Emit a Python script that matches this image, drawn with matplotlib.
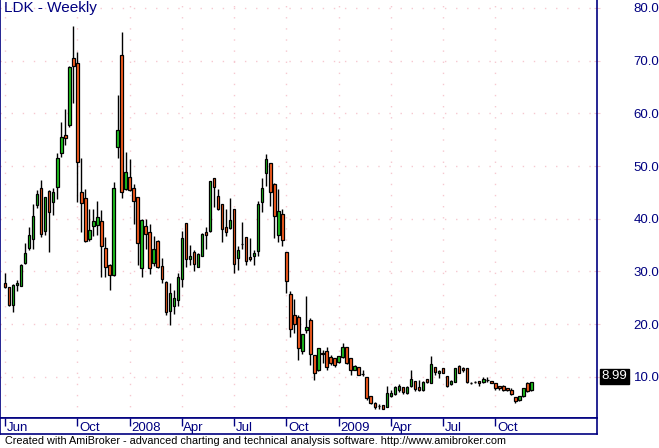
import numpy as np
import pandas as pd
import matplotlib
matplotlib.use("Agg")
import matplotlib.pyplot as plt
import matplotlib.transforms as mtransforms

# Datos semanales LDK
opens = [27.9, 27.0, 23.6, 27.4, 27.3, 31.6, 34.5, 36.1, 42.6, 45.8,
         37.7, 45.3, 43.1, 46.0, 52.4, 55.8, 57.7, 70.5, 69.5, 45.0,
         43.9, 36.2, 38.7, 38.8, 39.5, 34.4, 31.2, 29.3, 53.6, 71.1,
         45.6, 47.9, 45.8, 44.1, 30.6, 38.6, 37.4, 31.6, 35.8, 31.1,
         28.0, 22.5, 23.5, 24.5, 28.5, 39.1, 32.3, 33.6, 30.9, 33.0,
         37.4, 37.6, 47.7, 44.3, 42.75, 38.5, 38.3, 41.8, 32.5, 35.2,
         36.5, 32.7, 32.9, 33.95, 43.25, 48.75, 50.5, 46.6, 36.9, 40.85,
         33.6, 25.7, 21.75, 21.3, 15.0, 18.8, 20.7, 14.2, 11.4, 14.6,
         14.9, 13.7, 13.5, 12.9, 13.8, 15.7, 13.5, 11.4, 11.8, 10.6,
         10.0, 6.4, 5.0, 4.4, 4.7, 4.35, 6.4, 6.7, 7.5, 8.0,
         7.0, 8.3, 9.3, 8.1, 7.5, 9.55, 8.9, 11.8, 10.7, 11.6,
         10.2, 8.6, 9.1, 12.1, 11.6, 11.6, 8.8, 9.1, 9.2, 9.0,
         9.4, 9.2, 8.8, 8.3, 8.3, 7.8, 7.5, 6.1, 5.6, 6.4,
         8.9, 7.6]
highs = [29.8, 27.1, 27.6, 28.4, 31.4, 35.4, 38.5, 42.8, 45.5, 47.4,
         44.2, 45.5, 45.8, 52.4, 58.3, 60.8, 69.0, 76.6, 71.6, 51.5,
         45.6, 41.9, 41.9, 43.4, 41.7, 36.6, 31.5, 47.0, 63.5, 75.5,
         52.6, 51.3, 46.5, 44.2, 40.0, 39.9, 39.0, 36.7, 36.0, 32.5,
         28.2, 27.9, 26.5, 29.7, 37.7, 39.2, 35.0, 34.1, 33.45, 37.25,
         38.4, 47.2, 47.8, 45.7, 42.8, 41.9, 43.9, 41.9, 34.8, 39.3,
         36.6, 36.3, 34.1, 43.4, 47.7, 52.3, 50.6, 46.7, 45.7, 41.9,
         33.65, 26.3, 24.8, 21.75, 18.1, 25.4, 21.1, 14.2, 15.5, 15.1,
         15.7, 14.2, 13.5, 14.0, 16.4, 15.7, 13.5, 12.3, 11.8, 11.3,
         10.0, 6.4, 5.3, 4.85, 4.7, 8.3, 7.5, 8.3, 8.65, 8.1,
         8.2, 11.3, 9.3, 9.4, 9.3, 9.55, 14.0, 11.8, 11.3, 11.6,
         10.2, 9.5, 11.6, 12.3, 11.9, 11.6, 8.95, 9.3, 9.2, 9.9,
         9.9, 9.2, 8.8, 8.3, 8.5, 7.9, 7.8, 6.1, 6.4, 7.8,
         9.1, 9.0]
lows = [26.8, 23.5, 22.4, 26.2, 27.2, 31.5, 34.1, 34.2, 42.0, 36.5,
        36.9, 33.6, 40.8, 43.7, 51.7, 54.0, 57.5, 61.9, 43.1, 37.4,
        35.5, 35.8, 36.8, 36.9, 29.0, 29.0, 26.5, 29.2, 51.5, 43.9,
        45.5, 45.3, 39.0, 31.2, 29.0, 34.2, 29.5, 31.0, 30.6, 27.8,
        21.7, 19.8, 22.0, 23.5, 27.1, 30.8, 31.2, 30.0, 30.8, 32.9,
        34.2, 37.5, 42.2, 41.7, 35.5, 36.8, 38.0, 29.8, 30.2, 34.2,
        31.2, 32.0, 31.2, 32.9, 41.2, 46.2, 42.4, 36.3, 35.5, 34.8,
        26.0, 17.5, 18.3, 13.2, 14.3, 18.3, 12.3, 9.4, 11.2, 12.6,
        11.4, 12.3, 11.9, 12.6, 13.5, 12.45, 10.4, 11.3, 10.3, 10.2,
        5.7, 4.9, 4.0, 3.85, 3.95, 4.3, 6.1, 6.6, 7.2, 6.75,
        6.75, 8.1, 7.3, 7.4, 7.4, 8.8, 8.8, 10.4, 9.7, 10.7,
        8.1, 8.5, 9.0, 10.7, 11.0, 8.9, 8.6, 8.8, 8.3, 8.8,
        9.1, 8.8, 7.6, 7.6, 7.4, 7.4, 6.6, 5.1, 5.5, 6.2,
        7.2, 7.4]
closes = [27.1, 23.6, 27.4, 27.8, 31.2, 33.5, 36.9, 40.5, 44.7, 37.2,
          44.1, 41.2, 45.1, 51.5, 55.5, 55.4, 68.7, 68.9, 50.8, 42.9,
          35.7, 37.9, 39.5, 40.3, 34.9, 30.8, 29.3, 45.8, 56.8, 45.0,
          48.8, 45.5, 43.4, 35.4, 39.8, 37.1, 30.6, 34.2, 30.9, 28.5,
          22.4, 26.0, 25.0, 29.0, 36.3, 32.3, 32.9, 31.4, 33.3, 37.1,
          37.0, 47.1, 46.0, 41.9, 38.1, 37.4, 39.8, 31.4, 34.1, 35.2,
          31.9, 32.4, 33.45, 42.75, 45.8, 51.3, 45.0, 40.6, 41.5, 36.0,
          28.1, 19.0, 20.0, 15.4, 18.1, 19.5, 14.3, 10.8, 15.4, 14.3,
          11.8, 12.6, 12.3, 14.0, 15.7, 12.6, 11.4, 12.1, 10.4, 10.6,
          5.9, 5.0, 4.2, 4.4, 4.0, 7.0, 7.0, 8.0, 8.3, 7.1,
          8.0, 9.55, 7.7, 7.5, 9.0, 9.0, 12.4, 10.9, 11.2, 10.8,
          8.3, 9.3, 11.6, 10.8, 11.3, 9.0, 8.8, 9.1, 8.8, 9.55,
          9.4, 8.8, 7.8, 7.8, 7.6, 7.5, 6.75, 5.4, 6.4, 7.8,
          7.4, 8.99]

dates = pd.date_range("2007-06-01", periods=len(closes), freq="W-FRI")
tick_months = ["2007-06", "2007-10", "2008-01", "2008-04", "2008-07",
               "2008-10", "2009-01", "2009-04", "2009-07", "2009-10"]
tick_labels = ["Jun", "Oct", "2008", "Apr", "Jul", "Oct", "2009", "Apr", "Jul", "Oct"]
price_ticks = [10, 20, 30, 40, 50, 60, 70, 80]

navy = "#000080"
up_col = "#20c820"
down_col = "#ff6020"
grid_col = "#f6c8d0"
font = "Liberation Sans"

o = np.array(opens)
h = np.array(highs)
l = np.array(lows)
c = np.array(closes)
idx = np.arange(len(c))

fig = plt.figure(figsize=(6.59, 4.48), dpi=100)
W, H = 659.0, 448.0
ax = fig.add_axes([0, (H - 418) / H, 597 / W, 418 / H])
ax2 = fig.add_axes([0, (H - 434) / H, 597 / W, 16 / H], sharex=ax)

# Mechas y cuerpos de las velas
ax.vlines(idx, l, h, color="black", linewidth=1.0, zorder=2)
colors = np.where(c > o, up_col, np.where(c < o, down_col, "black"))
ax.bar(idx, c - o, bottom=o, width=0.62, color=colors, edgecolor="black",
       linewidth=0.9, zorder=3)

ax.set_xlim(-1.25, 147.3)
ax.set_ylim(2.2, 81.5)

# Posiciones de las marcas de fecha
tick_pos = [int(np.argmax(dates >= pd.Timestamp(m + "-01"))) for m in tick_months]

# Cuadrícula punteada rosa
for v in price_ticks:
    ax.axhline(v, color=grid_col, linewidth=1.0, linestyle=(0, (1, 7)), zorder=1)
for p in tick_pos:
    ax.axvline(p, color=grid_col, linewidth=1.0, linestyle=(0, (1, 7)), zorder=1)

# Eje de precios a la derecha
ax.yaxis.tick_right()
ax.set_yticks(price_ticks)
ax.set_yticklabels([f"{v:.1f}" for v in price_ticks], fontfamily=font,
                   fontsize=9.5, color=navy)
ax.tick_params(axis="y", direction="inout", length=5, color=grid_col, pad=24)
ax.tick_params(axis="x", bottom=False, labelbottom=False)

for side in ["left", "right", "bottom"]:
    ax.spines[side].set_color(navy)
    ax.spines[side].set_linewidth(1.2)
ax.spines["top"].set_visible(False)

ax.text(0.006, 0.997, "LDK - Weekly", transform=ax.transAxes, ha="left", va="top",
        fontfamily=font, fontsize=11, color=navy)

# Etiqueta del último precio
trans = mtransforms.blended_transform_factory(ax.transAxes, ax.transData)
ax.text(1.008, c[-1], f"{c[-1]:.2f}", transform=trans, ha="left", va="bottom",
        fontfamily=font, fontsize=9.5, color="white", clip_on=False,
        bbox=dict(boxstyle="square,pad=0.12", facecolor="black", edgecolor="black"))

# Franja de fechas
ax2.set_ylim(0, 1)
ax2.set_yticks([])
ax2.set_xticks(tick_pos)
ax2.tick_params(axis="x", top=True, bottom=False, labelbottom=False,
                direction="in", length=6, color=navy, width=1)
for p, lab in zip(tick_pos, tick_labels):
    ax2.text(p + 0.4, 0.38, lab, ha="left", va="center", fontfamily=font,
             fontsize=9.5, color=navy)
for side in ["left", "right", "bottom", "top"]:
    ax2.spines[side].set_color(navy)
    ax2.spines[side].set_linewidth(1.2)

fig.text(5 / W, 1 - 441 / H,
         "Created with AmiBroker - advanced charting and technical analysis software. http://www.amibroker.com",
         ha="left", va="center", fontfamily=font, fontsize=7.8, color="black")

fig.savefig("out.png", dpi=100)
